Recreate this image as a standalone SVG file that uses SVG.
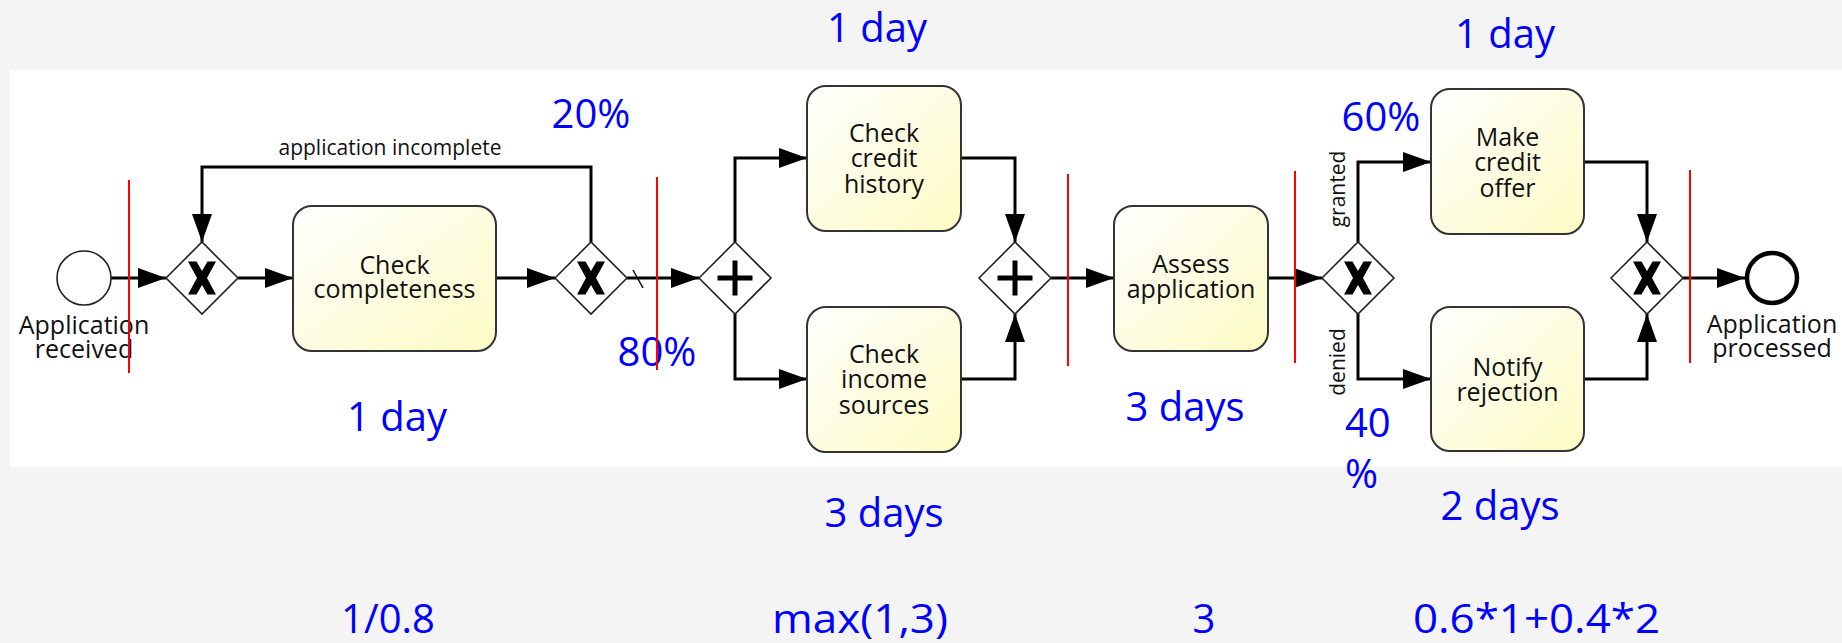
<svg xmlns="http://www.w3.org/2000/svg" xmlns:xlink="http://www.w3.org/1999/xlink" width="1842" height="643" viewBox="0 0 1842 643">
  <style>
    .task { stroke: #333333; stroke-width: 2; fill: url(#taskFill); }
    .gw { fill: #ffffff; stroke: #222222; stroke-width: 1.6; }
    .flow { fill: none; stroke: #000000; stroke-width: 3; marker-end: url(#arrow); }
    .plain { fill: none; stroke: #000000; stroke-width: 1.5; }
    .lbl { font-family: "Open Sans", "Noto Sans", sans-serif; font-size: 25px; fill: #111111; text-anchor: middle; }
    .edge { font-family: "Open Sans", "Noto Sans", sans-serif; font-size: 21px; fill: #111111; text-anchor: middle; }
    .note { font-family: "Open Sans", "Noto Sans", sans-serif; font-size: 40px; fill: #0000ff; text-anchor: middle; }
    .cut { stroke: #ff0000; stroke-width: 2; }
  </style>
  <defs>
    <linearGradient id="taskFill" x1="0" y1="0" x2="1" y2="1">
      <stop offset="0" stop-color="#ffffff"/>
      <stop offset="1" stop-color="#fdfbc4"/>
    </linearGradient>
    <marker id="arrow" markerUnits="userSpaceOnUse" markerWidth="28" markerHeight="20" refX="28" refY="10" orient="auto">
      <path d="M0,0 L28,10 L0,20 Z" fill="#000000"/>
    </marker>
    <path id="xorMark" d="M-14,-16.5 L-5.5,-16.5 L0,-7 L5.5,-16.5 L14,-16.5 L5,0 L14,16.5 L5.5,16.5 L0,7 L-5.5,16.5 L-14,16.5 L-5,0 Z" fill="#000000"/>
    <path id="andMark" d="M-17.5,0 H17.5 M0,-17.5 V17.5" stroke="#000000" stroke-width="5" fill="none"/>
    <path id="diamond" d="M-36,0 L0,-36 L36,0 L0,36 Z"/>
  </defs>

  <!-- page and diagram panel -->
  <rect x="0" y="0" width="1842" height="643" fill="#f4f4f4"/>
  <rect x="10" y="70" width="1832" height="397" fill="#ffffff"/>

  <!-- sequence flows -->
  <g id="connectors">
    <path class="flow" d="M111,278 H166"/>
    <path class="flow" d="M238,278 H293"/>
    <path class="flow" d="M496,278 H555"/>
    <path class="flow" d="M591,242 V167 H202 V242"/>
    <path class="flow" d="M627,278 H699"/>
    <path class="plain" d="M633,270 L643,288"/>
    <path class="flow" d="M735,242 V158 H807"/>
    <path class="flow" d="M735,314 V379 H807"/>
    <path class="flow" d="M961,158 H1015 V242"/>
    <path class="flow" d="M961,379 H1015 V314"/>
    <path class="flow" d="M1051,278 H1114"/>
    <path class="flow" d="M1268,278 H1322"/>
    <path class="flow" d="M1358,242 V162 H1431"/>
    <path class="flow" d="M1358,314 V379 H1431"/>
    <path class="flow" d="M1584,162 H1647 V242"/>
    <path class="flow" d="M1584,379 H1647 V314"/>
    <path class="flow" d="M1683,278 H1745"/>
  </g>

  <!-- start event -->
  <g id="start">
    <circle cx="84" cy="278" r="27" fill="#ffffff" stroke="#222222" stroke-width="1.6"/>
    <text class="lbl" x="84" y="334">Application</text>
    <text class="lbl" x="84" y="358">received</text>
  </g>

  <!-- exclusive merge -->
  <g id="gw-merge" transform="translate(202,278)">
    <use xlink:href="#diamond" class="gw"/>
    <use xlink:href="#xorMark"/>
  </g>

  <g id="task-check-completeness">
    <rect class="task" x="293" y="206" width="203" height="145" rx="19"/>
    <text class="lbl" x="394.5" y="274">Check</text>
    <text class="lbl" x="394.5" y="298">completeness</text>
  </g>

  <!-- completeness decision -->
  <g id="gw-complete" transform="translate(591,278)">
    <use xlink:href="#diamond" class="gw"/>
    <use xlink:href="#xorMark"/>
  </g>

  <g id="gw-fork" transform="translate(735,278)">
    <use xlink:href="#diamond" class="gw"/>
    <use xlink:href="#andMark"/>
  </g>

  <g id="task-credit-history">
    <rect class="task" x="807" y="86" width="154" height="145" rx="19"/>
    <text class="lbl" x="884" y="142">Check</text>
    <text class="lbl" x="884" y="167">credit</text>
    <text class="lbl" x="884" y="193">history</text>
  </g>

  <g id="task-income-sources">
    <rect class="task" x="807" y="307" width="154" height="145" rx="19"/>
    <text class="lbl" x="884" y="363">Check</text>
    <text class="lbl" x="884" y="388">income</text>
    <text class="lbl" x="884" y="414">sources</text>
  </g>

  <g id="gw-join" transform="translate(1015,278)">
    <use xlink:href="#diamond" class="gw"/>
    <use xlink:href="#andMark"/>
  </g>

  <g id="task-assess">
    <rect class="task" x="1114" y="206" width="154" height="145" rx="19"/>
    <text class="lbl" x="1191" y="273">Assess</text>
    <text class="lbl" x="1191" y="298">application</text>
  </g>

  <g id="gw-decision" transform="translate(1358,278)">
    <use xlink:href="#diamond" class="gw"/>
    <use xlink:href="#xorMark"/>
  </g>

  <g id="task-offer">
    <rect class="task" x="1431" y="89" width="153" height="145" rx="19"/>
    <text class="lbl" x="1507.5" y="146">Make</text>
    <text class="lbl" x="1507.5" y="171">credit</text>
    <text class="lbl" x="1507.5" y="197">offer</text>
  </g>

  <g id="task-reject">
    <rect class="task" x="1431" y="307" width="153" height="144" rx="19"/>
    <text class="lbl" x="1507.5" y="376">Notify</text>
    <text class="lbl" x="1507.5" y="401">rejection</text>
  </g>

  <g id="gw-end-merge" transform="translate(1647,278)">
    <use xlink:href="#diamond" class="gw"/>
    <use xlink:href="#xorMark"/>
  </g>

  <g id="end">
    <circle cx="1772" cy="278" r="25" fill="#ffffff" stroke="#000000" stroke-width="4.5"/>
    <text class="lbl" x="1772" y="333">Application</text>
    <text class="lbl" x="1772" y="357">processed</text>
  </g>

  <!-- flow labels -->
  <g id="flow-labels">
    <text class="edge" x="390" y="155">application incomplete</text>
    <text class="edge" transform="translate(1345,189) rotate(-90)">granted</text>
    <text class="edge" transform="translate(1345,362) rotate(-90)">denied</text>
  </g>

  <!-- durations, probabilities and totals -->
  <g id="annotations">
    <text class="note" x="877" y="42">1 day</text>
    <text class="note" x="1505" y="48">1 day</text>
    <text class="note" x="591" y="128">20%</text>
    <text class="note" x="1381" y="131">60%</text>
    <text class="note" x="657" y="366">80%</text>
    <text class="note" x="397" y="431">1 day</text>
    <text class="note" x="1185" y="421">3 days</text>
    <text class="note" x="1345" y="437" style="text-anchor:start">40</text>
    <text class="note" x="1345" y="488" style="text-anchor:start">%</text>
    <text class="note" x="884" y="527">3 days</text>
    <text class="note" x="1500" y="520">2 days</text>
    <text class="note" x="388" y="633">1/0.8</text>
    <text class="note" x="772" y="633" style="text-anchor:start" textLength="176" lengthAdjust="spacingAndGlyphs">max(1,3)</text>
    <text class="note" x="1204" y="633">3</text>
    <text class="note" x="1413" y="633" style="text-anchor:start" textLength="247" lengthAdjust="spacingAndGlyphs">0.6*1+0.4*2</text>
  </g>

  <!-- cut lines -->
  <g id="cuts">
    <line class="cut" x1="129" y1="180" x2="129" y2="373"/>
    <line class="cut" x1="657" y1="177" x2="657" y2="370"/>
    <line class="cut" x1="1068" y1="174" x2="1068" y2="366"/>
    <line class="cut" x1="1295" y1="171" x2="1295" y2="363"/>
    <line class="cut" x1="1690" y1="170" x2="1690" y2="363"/>
  </g>
</svg>
